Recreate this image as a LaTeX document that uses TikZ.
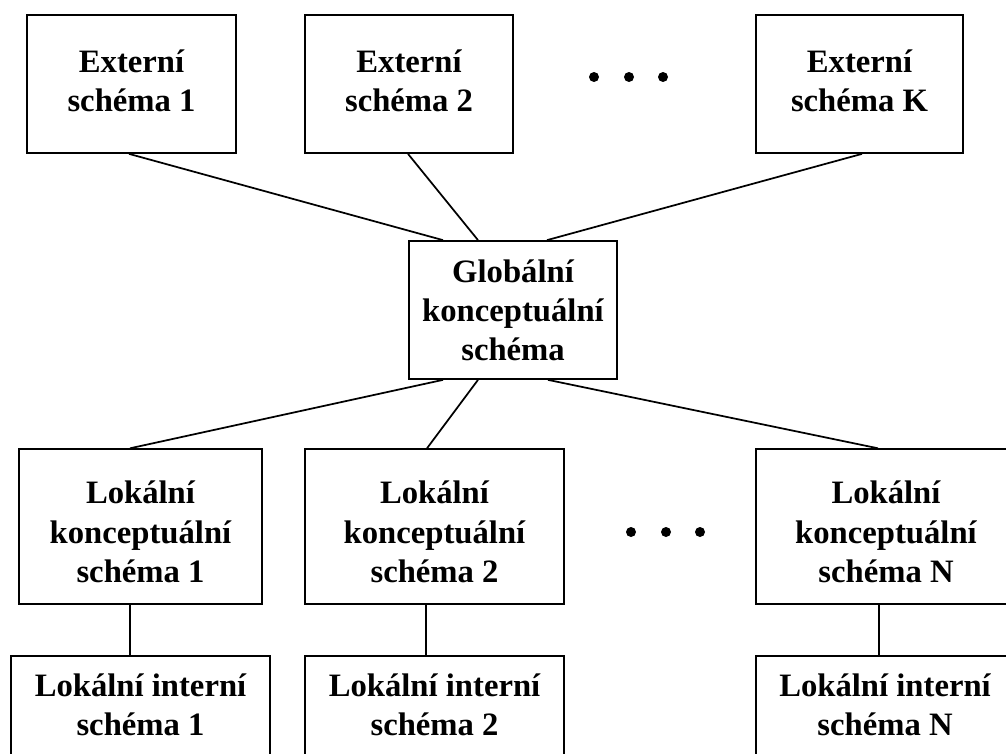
\documentclass[tikz,border=0pt]{standalone}
\usepackage{fontspec}
\setmainfont{Liberation Serif}
\usetikzlibrary{calc}

\begin{document}
\begin{tikzpicture}[x=0.75pt,y=-0.75pt,line width=1.3pt,
  box/.style={draw,rectangle,align=center,inner sep=0pt,
    font=\bfseries\fontsize{24.5}{29.3}\selectfont},
  dot/.style={fill,circle,inner sep=0pt,minimum size=7.5pt}]
\useasboundingbox (0,0) rectangle (1006,753);
% external schemas
\node[box,text depth=4.5pt,minimum width=157pt,minimum height=103.5pt] (ext1) at (131.5,84) {Externí\\schéma 1};
\node[box,text depth=4.5pt,minimum width=156pt,minimum height=103.5pt] (ext2) at (409,84) {Externí\\schéma 2};
\node[box,text depth=4.5pt,minimum width=155pt,minimum height=103.5pt] (extK) at (859.5,84) {Externí\\schéma K};
\node[dot] (d1) at (594,77) {};
\node[dot] (d2) at (629,77) {};
\node[dot] (d3) at (663,77) {};
% global schema
\node[box,minimum width=156pt,minimum height=103.5pt] (glob) at (513,310) {Globální\\konceptuální\\schéma};
% local conceptual schemas
\node[box,minimum width=182pt,minimum height=116pt] (lks1) at (140.5,526.5) {\rule{0pt}{25pt}Lokální\\konceptuální\\schéma 1};
\node[box,minimum width=194pt,minimum height=116pt] (lks2) at (434.5,526.5) {\rule{0pt}{25pt}Lokální\\konceptuální\\schéma 2};
\node[box,minimum width=195pt,minimum height=116pt] (lksN) at (886,526.5) {\rule{0pt}{25pt}Lokální\\konceptuální\\schéma N};
\node[dot] (d4) at (631,532) {};
\node[dot] (d5) at (666,532) {};
\node[dot] (d6) at (700,532) {};
% local internal schemas
\node[box,text depth=6pt,minimum width=194pt,minimum height=79pt] (lis1) at (140.5,709) {Lokální interní\\schéma 1};
\node[box,text depth=6pt,minimum width=194pt,minimum height=79pt] (lis2) at (434.5,709) {Lokální interní\\schéma 2};
\node[box,text depth=6pt,minimum width=194pt,minimum height=79pt] (lisN) at (885,709) {Lokální interní\\schéma N};
% connectors
\draw ($(ext1.south)+(-2.5,0)$) -- ($(glob.north)+(-70,0)$);
\draw ($(ext2.south)+(-1,0)$) -- ($(glob.north)+(-35,0)$);
\draw ($(extK.south)+(2.5,0)$) -- ($(glob.north)+(34,0)$);
\draw ($(glob.south)+(-70,0)$) -- ($(lks1.north)+(-10.5,0)$);
\draw ($(glob.south)+(-35,0)$) -- ($(lks2.north)+(-7.5,0)$);
\draw ($(glob.south)+(35,0)$) -- ($(lksN.north)+(-8,0)$);
\draw ($(lks1.south)+(-10.5,0)$) -- ($(lis1.north)+(-10.5,0)$);
\draw ($(lks2.south)+(-8.5,0)$) -- ($(lis2.north)+(-8.5,0)$);
\draw ($(lksN.south)+(-7,0)$) -- ($(lisN.north)+(-6,0)$);
\end{tikzpicture}
\end{document}
